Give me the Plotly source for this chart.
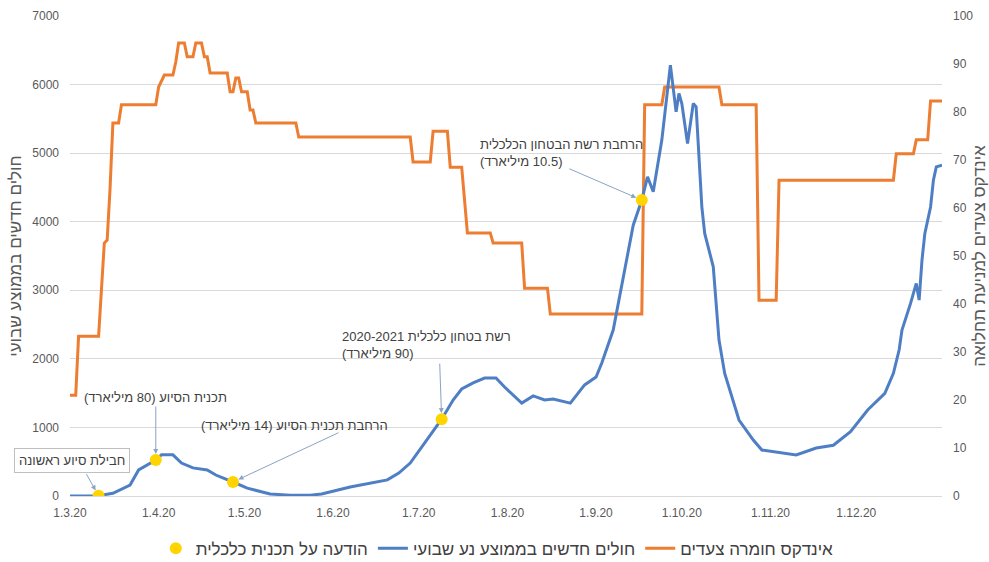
import plotly.graph_objects as go

# weekly average of new cases (left axis)
case_dates = [
    "2020-03-01", "2020-03-11", "2020-03-16", "2020-03-22", "2020-03-25", "2020-03-29",
    "2020-03-31", "2020-04-02", "2020-04-06", "2020-04-09", "2020-04-13", "2020-04-18",
    "2020-04-21", "2020-04-27", "2020-05-02", "2020-05-10", "2020-05-17", "2020-05-24",
    "2020-05-28", "2020-06-07", "2020-06-13", "2020-06-20", "2020-06-24", "2020-06-28",
    "2020-07-03", "2020-07-09", "2020-07-13", "2020-07-16", "2020-07-20", "2020-07-24",
    "2020-07-28", "2020-07-31", "2020-08-06", "2020-08-10", "2020-08-14", "2020-08-17",
    "2020-08-23", "2020-08-28", "2020-09-01", "2020-09-03", "2020-09-07", "2020-09-09",
    "2020-09-14", "2020-09-17", "2020-09-19", "2020-09-21", "2020-09-24", "2020-09-27",
    "2020-09-29", "2020-09-30", "2020-10-01", "2020-10-03", "2020-10-05", "2020-10-06",
    "2020-10-08", "2020-10-09", "2020-10-12", "2020-10-14", "2020-10-16", "2020-10-21",
    "2020-10-26", "2020-10-29", "2020-11-03", "2020-11-10", "2020-11-17", "2020-11-23",
    "2020-11-29", "2020-12-05", "2020-12-11", "2020-12-14", "2020-12-16", "2020-12-17",
    "2020-12-20", "2020-12-22", "2020-12-23", "2020-12-24", "2020-12-25", "2020-12-27",
    "2020-12-28", "2020-12-29", "2020-12-31",
]
case_values = [
    0, 5, 40, 160, 380, 480,
    525, 600, 600, 480, 410, 380,
    306, 204, 115, 30, 10, 10,
    30, 130, 175, 235, 335, 480,
    770, 1120, 1400, 1560, 1650, 1720,
    1720, 1590, 1355, 1460, 1400, 1415,
    1355, 1620, 1735, 1940, 2420, 2860,
    3950, 4315, 4655, 4436, 5190, 6283,
    5602, 5870, 5724, 5141, 5724, 5675,
    4217, 3829, 3343, 2274, 1788, 1108,
    816, 670, 640, 598, 700, 740,
    937, 1254, 1497, 1788, 2128, 2420,
    2809, 3100, 2857, 3440, 3830, 4215,
    4606, 4800, 4825,
]

# stringency index (right axis)
index_dates = [
    "2020-03-01", "2020-03-03", "2020-03-04", "2020-03-11", "2020-03-13", "2020-03-14",
    "2020-03-15", "2020-03-16", "2020-03-18", "2020-03-19", "2020-03-31", "2020-04-01",
    "2020-04-03", "2020-04-06", "2020-04-07", "2020-04-08", "2020-04-10", "2020-04-11",
    "2020-04-13", "2020-04-14", "2020-04-16", "2020-04-17", "2020-04-18", "2020-04-19",
    "2020-04-25", "2020-04-26", "2020-04-27", "2020-04-28", "2020-04-29", "2020-04-30",
    "2020-05-02", "2020-05-03", "2020-05-04", "2020-05-05", "2020-05-19", "2020-05-20",
    "2020-06-28", "2020-06-29", "2020-07-05", "2020-07-06", "2020-07-11", "2020-07-12",
    "2020-07-16", "2020-07-18", "2020-07-26", "2020-07-27", "2020-08-06", "2020-08-07",
    "2020-08-15", "2020-08-16", "2020-09-17", "2020-09-18", "2020-09-24", "2020-09-25",
    "2020-10-14", "2020-10-15", "2020-10-27", "2020-10-28", "2020-11-03", "2020-11-04",
    "2020-12-14", "2020-12-15", "2020-12-21", "2020-12-22", "2020-12-26", "2020-12-27",
    "2020-12-31",
]
index_values = [
    21, 21, 33.3, 33.3, 52.7, 53.3,
    64, 77.7, 77.7, 81.5, 81.5, 85.2,
    87.7, 87.7, 90.4, 94.4, 94.4, 91.5,
    91.5, 94.4, 94.4, 91.5, 91.5, 88.1,
    88.1, 84.2, 84.2, 87.1, 87.1, 84.2,
    84.2, 80.4, 80.4, 77.7, 77.7, 74.8,
    74.8, 69.6, 69.6, 76, 76, 68.5,
    68.5, 54.8, 54.8, 52.7, 52.7, 43.3,
    43.3, 37.9, 37.9, 81.5, 81.5, 85.2,
    85.2, 81.5, 81.5, 40.8, 40.8, 65.8,
    65.8, 71.3, 71.3, 74.2, 74.2, 82.3,
    82.3,
]

# economic plan announcements
event_dates = ["2020-03-11", "2020-03-31", "2020-04-27", "2020-07-09", "2020-09-17"]
event_values = [5, 525, 204, 1120, 4315]
event_labels = [
    ["חבילת סיוע ראשונה"],
    ["תכנית הסיוע (80 מיליארד)"],
    ["הרחבת תכנית הסיוע (14 מיליארד)"],
    ["רשת בטחון כלכלית 2020-2021", "(90 מיליארד)"],
    ["הרחבת רשת הבטחון הכלכלית", "(10.5 מיליארד)"],
]

tick_dates = ["2020-03-01", "2020-04-01", "2020-05-01", "2020-06-01", "2020-07-01",
              "2020-08-01", "2020-09-01", "2020-10-01", "2020-11-01", "2020-12-01"]
tick_labels = ["1.3.20", "1.4.20", "1.5.20", "1.6.20", "1.7.20",
               "1.8.20", "1.9.20", "1.10.20", "1.11.20", "1.12.20"]

FONT = "Liberation Sans, Arial, DejaVu Sans, sans-serif"
TXT = "#595959"
ARROW = "#8aa3c4"


def rtl(s):
    return "\u200f" + s + "\u200f"


fig = go.Figure()

fig.add_trace(go.Scatter(
    x=index_dates, y=index_values, yaxis="y", mode="lines",
    name=rtl("אינדקס חומרה צעדים"), legendrank=3,
    line=dict(color="#ED7D31", width=3),
))
fig.add_trace(go.Scatter(
    x=case_dates, y=case_values, yaxis="y2", mode="lines",
    name=rtl("חולים חדשים בממוצע נע שבועי"), legendrank=2,
    line=dict(color="#4E7FC4", width=3),
))
fig.add_trace(go.Scatter(
    x=event_dates, y=event_values, yaxis="y2", mode="markers",
    name=rtl("הודעה על תכנית כלכלית"), legendrank=1,
    marker=dict(color="#FFD400", size=12, symbol="circle"),
))

# text placement (pixel offsets from each dot) and arrow tails
text_shift = [(-27, 35), (0, 63), (62, 57), (-102, 74), (-164, 47)]
arrow_tail = [(-13, -23), (0, -55), (107, -50), (-2, -57), (-74, -32)]

annotations = []
for i, (d, v, lines) in enumerate(zip(event_dates, event_values, event_labels)):
    multi = len(lines) > 1
    ann = dict(
        x=d, y=v, xref="x", yref="y2", showarrow=False,
        text="<br>".join(rtl(s) for s in lines),
        font=dict(family=FONT, size=13, color="#404040"),
        xshift=text_shift[i][0], yshift=text_shift[i][1],
        xanchor="left" if multi else "center", align="left",
    )
    if i == 0:
        ann.update(bordercolor="#bfbfbf", borderwidth=1, borderpad=4, bgcolor="white")
    annotations.append(ann)
    annotations.append(dict(
        x=d, y=v, xref="x", yref="y2", text="", showarrow=True,
        ax=arrow_tail[i][0], ay=arrow_tail[i][1],
        arrowcolor=ARROW, arrowwidth=1, arrowhead=2, arrowsize=1, standoff=6,
    ))

fig.update_layout(
    width=989, height=562,
    margin=dict(l=70, r=47, t=16, b=66, autoexpand=False),
    plot_bgcolor="white", paper_bgcolor="white",
    font=dict(family=FONT, color=TXT),
    showlegend=True,
    legend=dict(orientation="h", x=0.49, xanchor="center", y=-0.11, yanchor="middle",
                font=dict(family=FONT, size=17, color="#404040"), itemwidth=30),
    xaxis=dict(
        type="date", range=["2020-03-01", "2020-12-31"], automargin=False,
        tickvals=tick_dates, ticktext=tick_labels,
        showgrid=False, zeroline=False, showline=True, linecolor="#d9d9d9",
        ticks="", tickfont=dict(size=12, color=TXT), ticklabelstandoff=6,
    ),
    yaxis=dict(
        side="right", range=[0, 100], dtick=10, showgrid=False, zeroline=False,
        automargin=False,
        ticks="", tickfont=dict(size=12, color=TXT), ticklabelstandoff=10,
        title=dict(text=rtl("אינדקס צעדים למניעת תחלואה"),
                   font=dict(size=17, color=TXT), standoff=2),
    ),
    yaxis2=dict(
        side="left", overlaying="y", range=[0, 7000], dtick=1000, automargin=False,
        showgrid=True, gridcolor="#d9d9d9", zeroline=False,
        ticks="", tickfont=dict(size=12, color=TXT), ticklabelstandoff=10,
        title=dict(text=rtl("חולים חדשים בממוצע שבועי"),
                   font=dict(size=17, color=TXT), standoff=6),
    ),
    annotations=annotations,
)

# drop the default page margin so the figure sits at the window's corner
fig.write_html("out.html", config={"displayModeBar": False},
               post_script="document.body.style.margin='0';")
